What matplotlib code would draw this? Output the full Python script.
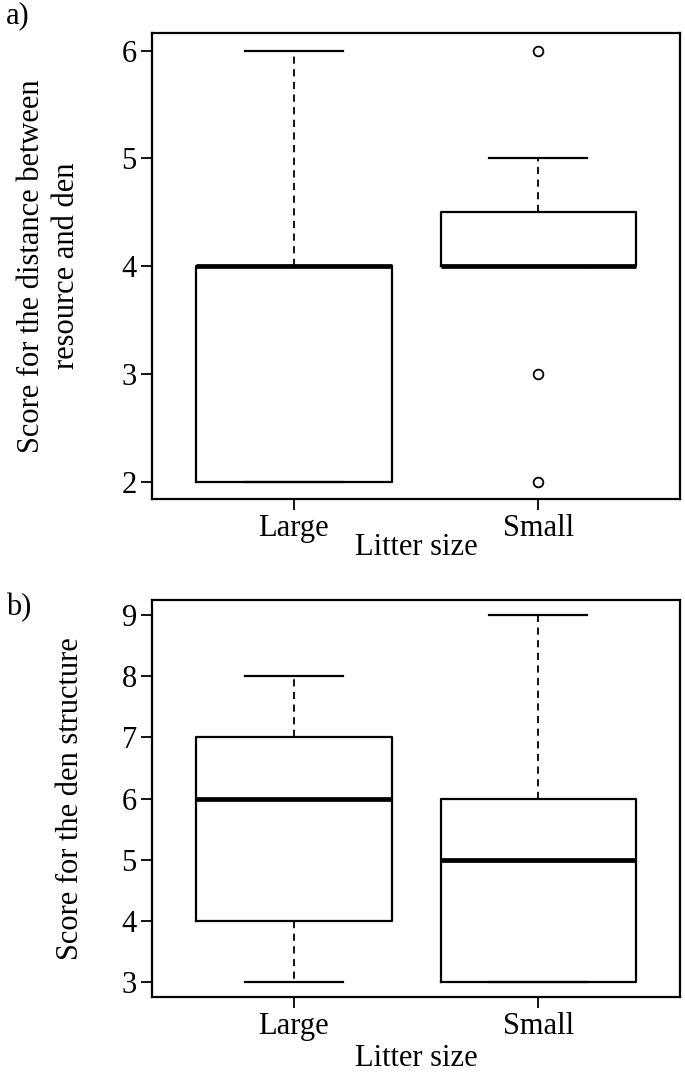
import matplotlib
matplotlib.use("Agg")
import matplotlib.pyplot as plt

plt.rcParams['font.family'] = ['Liberation Serif', 'DejaVu Serif']

# -----------------------------
# Data (box summary)
# -----------------------------
groups = ['Large', 'Small']

# a) distance between resource and den
dist_q1 = [2, 4]
dist_med = [4, 4]
dist_q3 = [4, 4.5]
dist_lo = [2, 4]
dist_hi = [6, 5]
dist_out = [[], [6, 3, 2]]

# b) den structure
den_q1 = [4, 3]
den_med = [6, 5]
den_q3 = [7, 6]
den_lo = [3, 3]
den_hi = [8, 9]
den_out = [[], []]

dist_ticks = [2, 3, 4, 5, 6]
den_ticks = [3, 4, 5, 6, 7, 8, 9]

FS = 22


def make_stats(q1, med, q3, lo, hi, out):
    stats = []
    for i in range(len(groups)):
        stats.append({'label': groups[i], 'q1': q1[i], 'med': med[i], 'q3': q3[i],
                      'whislo': lo[i], 'whishi': hi[i], 'fliers': out[i]})
    return stats


def draw_panel(ax, stats, ticks, ylabel, ylab_x, xlab_y):
    ax.bxp(stats, positions=[1, 2], widths=0.8, showfliers=True,
           boxprops=dict(color='black', linewidth=1.6),
           medianprops=dict(color='black', linewidth=3.4, solid_capstyle='butt'),
           whiskerprops=dict(color='black', linewidth=1.3, linestyle=(0, (4, 3))),
           capprops=dict(color='black', linewidth=1.6),
           flierprops=dict(marker='o', markersize=7, markerfacecolor='white',
                           markeredgecolor='black', markeredgewidth=1.3),
           capwidths=0.4)
    lo, hi = ticks[0], ticks[-1]
    pad = (hi - lo) * 0.04
    ax.set_ylim(lo - pad, hi + pad)
    ax.set_xlim(0.42, 2.58)
    ax.set_yticks(ticks)
    ax.set_xticks([1, 2])
    ax.set_xticklabels(groups)
    ax.tick_params(axis='both', direction='out', length=8, width=1.3,
                   labelsize=FS, colors='black', pad=3)
    for s in ax.spines.values():
        s.set_linewidth(1.6)
    ax.set_xlabel('Litter size', fontsize=FS, va='center')
    ax.xaxis.set_label_coords(0.5, xlab_y)
    ax.set_ylabel(ylabel, fontsize=FS, linespacing=1.3, va='center')
    ax.yaxis.set_label_coords(ylab_x, 0.5)


fig = plt.figure(figsize=(6.85, 10.73), dpi=100)

ax1 = fig.add_axes([0.222, 0.535, 0.771, 0.434])
draw_panel(ax1, make_stats(dist_q1, dist_med, dist_q3, dist_lo, dist_hi, dist_out),
           dist_ticks, 'Score for the distance between\nresource and den',
           -0.195, -0.104)

ax2 = fig.add_axes([0.222, 0.0708, 0.771, 0.370])
draw_panel(ax2, make_stats(den_q1, den_med, den_q3, den_lo, den_hi, den_out),
           den_ticks, 'Score for the den structure', -0.155, -0.156)

fig.text(0.009, 0.985, 'a)', fontsize=FS, va='center', ha='left')
fig.text(0.009, 0.434, 'b)', fontsize=FS, va='center', ha='left')

fig.savefig('out.png', dpi=100)
